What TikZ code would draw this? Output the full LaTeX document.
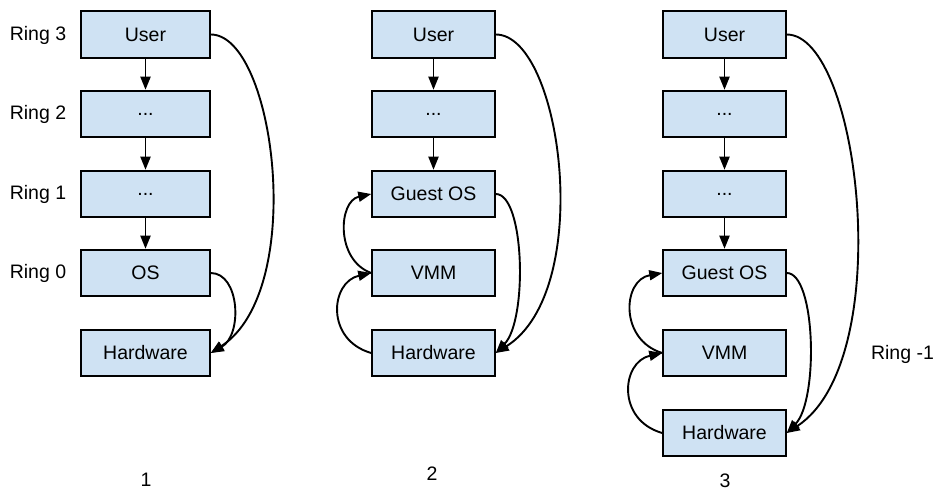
\documentclass[tikz,border=0pt]{standalone}
\usepackage{fontspec}
\setmainfont{Liberation Sans}
\usetikzlibrary{arrows.meta}
\definecolor{boxfill}{RGB}{207,226,243}
\begin{document}
\begin{tikzpicture}[x=1pt,y=-1pt,
  font=\fontsize{19.5}{23}\selectfont,
  layer/.style={draw=black,line width=2pt,fill=boxfill,minimum height=46.5pt,inner sep=0pt},
  wideb/.style={layer,minimum width=128.5pt},
  narrowb/.style={layer,minimum width=122.5pt},
  flow/.style={line width=1.9pt,-{Triangle[length=13pt,width=10pt]}},
  lbl/.style={inner sep=0pt}]
\useasboundingbox (0,0) rectangle (936,494);

% column 1: classic protection rings
\node[wideb] (u1) at (145.5,34.5) {User};
\node[wideb] (r2) at (145.5,114) {...};
\node[wideb] (r1) at (145.5,194) {...};
\node[wideb] (os1) at (145.5,273) {OS};
\node[wideb] (hw1) at (145.5,353) {Hardware};

\node[lbl] (ring3) at (38,35) {Ring 3};
\node[lbl] (ring2) at (38,114) {Ring 2};
\node[lbl] (ring1) at (38,194) {Ring 1};
\node[lbl] (ring0) at (38,273) {Ring 0};

\draw[flow] (u1) -- (r2);
\draw[flow] (r2) -- (r1);
\draw[flow] (r1) -- (os1);
\draw[flow] (u1.east) .. controls +(64,0) and +(97,-63) .. (hw1.east);
\draw[flow] (os1.east) .. controls +(29,0) and +(32,-18) .. (hw1.east);

% column 2: guest OS on a VMM
\node[narrowb] (u2) at (433.5,34.5) {User};
\node[narrowb] (d2) at (433.5,114) {...};
\node[narrowb] (g2) at (433.5,194) {Guest OS};
\node[narrowb] (v2) at (433.5,273) {VMM};
\node[narrowb] (hw2) at (433.5,353) {Hardware};

\draw[flow] (u2) -- (d2);
\draw[flow] (d2) -- (g2);
\draw[flow] (u2.east) .. controls +(66,0) and +(100,-63) .. (hw2.east);
\draw[flow] (g2.east) .. controls +(29,0) and +(32,-33) .. (hw2.east);
\draw[flow] (v2.west) .. controls +(-36,-13) and +(-33,7) .. (g2.west);
\draw[flow] (hw2.west) .. controls +(-46,-13) and +(-41,9) .. (v2.west);

% column 3: hypervisor below ring 0
\node[narrowb] (u3) at (724.5,34.5) {User};
\node[narrowb] (d3a) at (724.5,114) {...};
\node[narrowb] (d3b) at (724.5,194) {...};
\node[narrowb] (g3) at (724.5,273) {Guest OS};
\node[narrowb] (v3) at (724.5,353) {VMM};
\node[narrowb] (hw3) at (724.5,433) {Hardware};

\node[lbl] (ringm1) at (902.5,354) {Ring -1};

\draw[flow] (u3) -- (d3a);
\draw[flow] (d3a) -- (d3b);
\draw[flow] (d3b) -- (g3);
\draw[flow] (u3.east) .. controls +(73,0) and +(111,-73) .. (hw3.east);
\draw[flow] (g3.east) .. controls +(29,0) and +(32,-33) .. (hw3.east);
\draw[flow] (v3.west) .. controls +(-43,-13) and +(-40,7) .. (g3.west);
\draw[flow] (hw3.west) .. controls +(-46,-13) and +(-41,9) .. (v3.west);

% column numbers
\node[lbl] (n1) at (146,480) {1};
\node[lbl] (n2) at (432,474) {2};
\node[lbl] (n3) at (725,481) {3};
\end{tikzpicture}
\end{document}
